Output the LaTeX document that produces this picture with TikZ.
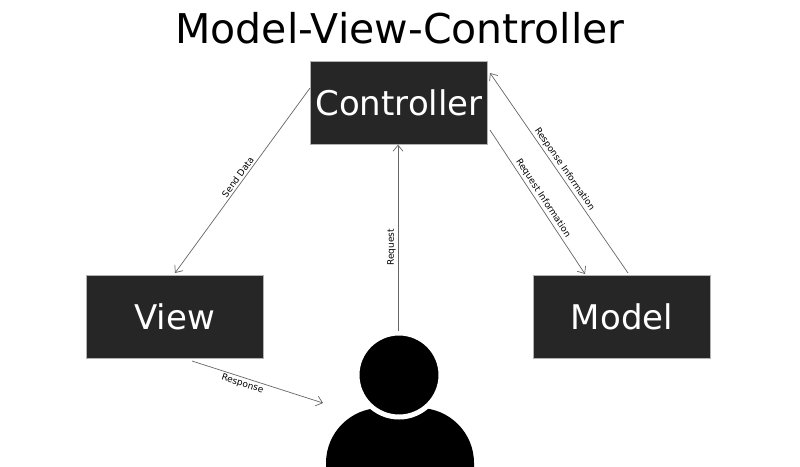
\documentclass[tikz,border=0pt]{standalone}
\usepackage{fontspec}
\setmainfont{DejaVu Sans}
\usetikzlibrary{arrows.meta}
\begin{document}
\begin{tikzpicture}[x=1pt,y=-1pt,
  box/.style={draw=gray!60,fill=black!85,text=white,minimum width=177pt,minimum height=83pt,inner sep=0pt,font=\fontsize{34}{40}\selectfont},
  conn/.style={draw=gray!80!black,line width=0.7pt,-{Straight Barb[length=6pt,width=10pt]}},
  lab/.style={font=\fontsize{9}{10}\selectfont,sloped,above,inner sep=2pt}]
\useasboundingbox (0,0) rectangle (800,466);
\fill[white] (0,0) rectangle (800,466);
\node (title) at (400,28) {\fontsize{41}{48}\selectfont Model-View-Controller};
\node[box] (ctrl) at (399,103) {Controller};
\node[box] (view) at (174.5,316.5) {View};
\node[box] (model) at (622,316.5) {Model};
% person
\begin{scope}
\clip (0,0) rectangle (800,466);
\fill[black,rounded corners=55pt] (326,530) -- (326,408) -- (474,408) -- (474,530) -- cycle;
\draw[white,line width=5pt,fill=black] (399,375) circle (42pt);
\node[circle,minimum size=80pt,inner sep=0pt] (user) at (399,375) {};
\end{scope}
\coordinate (sdA) at (310,88);
\coordinate (sdB) at (175,273);
\draw[conn] (sdA) -- node[lab] {Send Data} (sdB);
\coordinate (rqA) at (398,331);
\draw[conn] (rqA) -- node[lab,pos=0.45] {Request} (ctrl.south -| rqA);
\coordinate (riA) at (490,130);
\coordinate (riB) at (585,274);
\draw[conn] (riA) -- node[lab,pos=0.5] {Request Information} (riB);
\coordinate (rsA) at (628,273);
\coordinate (rsB) at (490,73);
\draw[conn] (rsA) -- node[lab,pos=0.5] {Response Information} (rsB);
\coordinate (rA) at (192,361);
\coordinate (rB) at (323,403);
\draw[conn] (rA) -- node[lab,below,pos=0.4] {Response} (rB);
\end{tikzpicture}
\end{document}
